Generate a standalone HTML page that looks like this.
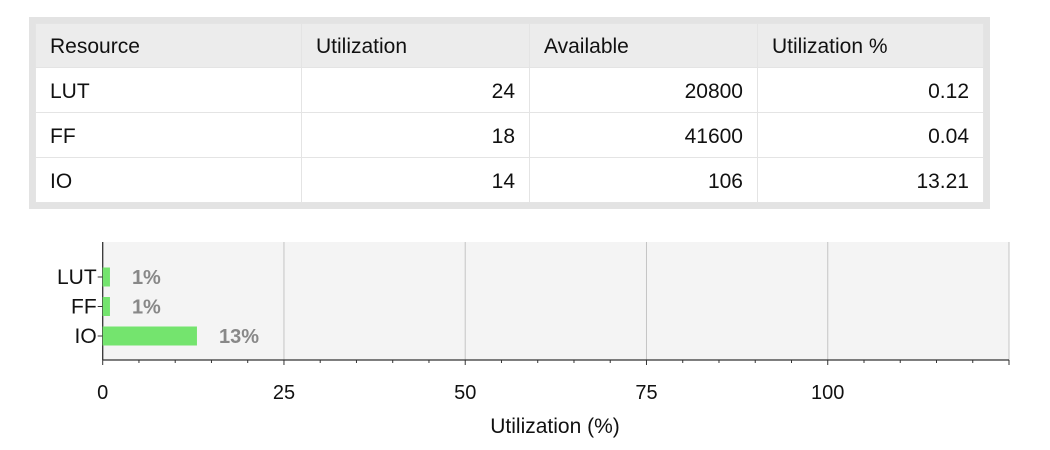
<!DOCTYPE html>
<html><head><meta charset="utf-8"><style>
body{margin:0;width:1050px;height:450px;background:#fff;font-family:"Liberation Sans",sans-serif;overflow:hidden;position:relative}
#tbl{position:absolute;left:29px;top:17px;width:949px;padding:6px;background:#e3e3e3;}
table{border-collapse:collapse;width:949px;background:#fff;font-size:21px;color:#111}
td,th{height:45px;padding:3px 14px 0 14px;border:1px solid #e4e4e4;font-weight:normal;box-sizing:border-box}
th{background:#ececec;text-align:left;height:44px}
td{text-align:right}
td:first-child{text-align:left}
</style></head><body>
<div id="tbl">
<table>
<tr><th style="width:266px">Resource</th><th style="width:228px">Utilization</th><th style="width:228px">Available</th><th>Utilization %</th></tr>
<tr><td>LUT</td><td>24</td><td>20800</td><td>0.12</td></tr>
<tr><td>FF</td><td>18</td><td>41600</td><td>0.04</td></tr>
<tr><td>IO</td><td>14</td><td>106</td><td>13.21</td></tr>
</table></div>
<svg id="chart" width="1050" height="450" style="position:absolute;left:0;top:0"></svg>
<script>
const categories=["LUT","FF","IO"];
const values=[1,1,13];
const labels=["1%","1%","13%"];
const majorTicks=[0,25,50,75,100];
const xMax=125;
const svg=document.getElementById('chart');
const NS='http://www.w3.org/2000/svg';
const x0=102.7,x1=1009,yTop=242,yBot=360;
const X=v=>x0+(v/xMax)*(x1-x0);
const Y=i=>277+i*29.5;
function mk(t,a,txt){const e=document.createElementNS(NS,t);for(const k in a)e.setAttribute(k,a[k]);if(txt!=null)e.textContent=txt;svg.appendChild(e);return e;}
let e=mk('rect',{x:x0,y:yTop,width:x1-x0,height:yBot-yTop,fill:'#f4f4f4'});

majorTicks.forEach(t=>{if(t>0){const g=mk('line',{x1:X(t),x2:X(t),y1:yTop,y2:yBot,stroke:'#c4c4c4','stroke-width':1});
}
const l=mk('text',{x:X(t),y:399,'text-anchor':'middle','font-size':20,fill:'#111'},t);
});
mk('line',{x1:x1,x2:x1,y1:yTop,y2:yBot,stroke:'#c4c4c4'});
for(let v=0;v<=xMax;v+=5){const maj=v%25==0||v==xMax;mk('line',{x1:X(v),x2:X(v),y1:yBot,y2:yBot+(maj?5:3),stroke:'#333'});}
mk('line',{x1:x0,x2:x1,y1:yBot,y2:yBot,stroke:'#333','stroke-width':1.3});
mk('line',{x1:x0,x2:x0,y1:yTop,y2:yBot,stroke:'#333','stroke-width':1.3});
categories.forEach((c,i)=>{
const b=mk('rect',{x:x0,y:Y(i)-9.5,width:X(values[i])-x0,height:19,fill:'#74e46e'});

mk('line',{x1:x0-5,x2:x0,y1:Y(i),y2:Y(i),stroke:'#333'});
const t=mk('text',{x:x0-6,y:Y(i)+7,'text-anchor':'end','font-size':21,fill:'#111'},c);

const v=mk('text',{x:X(values[i])+22,y:Y(i)+7,'font-size':20,'font-weight':'bold',fill:'#888'},labels[i]);
});
const tt=mk('text',{x:555,y:433,'text-anchor':'middle','font-size':21,fill:'#111'},'Utilization (%)');

</script>
</body></html>
